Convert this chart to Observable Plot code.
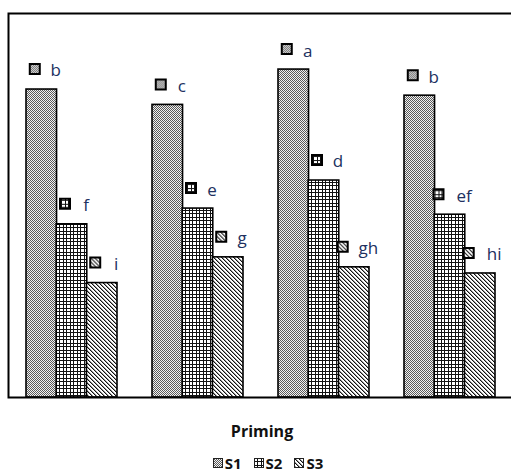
<!DOCTYPE html>
<html>
<head>
<meta charset="utf-8">
<script src="https://cdn.jsdelivr.net/npm/d3@7"></script>
<script src="https://cdn.jsdelivr.net/npm/@observablehq/plot@0.6"></script>
<style>
  html, body { margin: 0; padding: 0; background: #fff; overflow: hidden; }
  #wrap { position: relative; width: 511px; height: 474px; }
  #title { position: absolute; left: 202px; width: 120px; top: 419px; text-align: center;
           font: bold 16px "Open Sans", sans-serif; color: #111; line-height: 24px; }
  #legend { position: absolute; left: 168px; width: 200px; top: 456px; height: 14px;
            display: flex; justify-content: center; align-items: center;
            font: bold 15px "Open Sans", sans-serif; color: #111; line-height: 14px; }
  .item { display: flex; align-items: center; margin: 0 6px; line-height: 14px; height: 14px; }
  .item svg { margin-right: 2px; }
</style>
</head>
<body>
<svg width="0" height="0" style="position:absolute">
  <defs>
    <pattern id="p1" width="2" height="2" patternUnits="userSpaceOnUse">
      <rect width="2" height="2" fill="#f2f2f2"/>
      <rect width="1" height="1" fill="#5a5a5a"/>
      <rect x="1" y="1" width="1" height="1" fill="#5a5a5a"/>
    </pattern>
    <pattern id="p2" width="7" height="7" patternUnits="userSpaceOnUse">
      <rect width="7" height="7" fill="#fff"/>
      <rect x="0" y="0" width="1" height="7" fill="#111"/>
      <rect x="3" y="0" width="1" height="7" fill="#111"/>
      <rect x="0" y="0" width="7" height="1" fill="#111"/>
      <rect x="0" y="3" width="7" height="1" fill="#111"/>
    </pattern>
    <pattern id="p3" width="4" height="4" patternUnits="userSpaceOnUse">
      <rect width="4" height="4" fill="#fff"/>
      <rect x="0" y="0" width="1" height="1" fill="#111"/>
      <rect x="1" y="1" width="1" height="1" fill="#111"/>
      <rect x="2" y="2" width="1" height="1" fill="#111"/>
      <rect x="3" y="3" width="1" height="1" fill="#111"/>
      <rect x="1" y="0" width="1" height="1" fill="#999"/>
      <rect x="2" y="1" width="1" height="1" fill="#999"/>
      <rect x="3" y="2" width="1" height="1" fill="#999"/>
      <rect x="0" y="3" width="1" height="1" fill="#999"/>
    </pattern>
  </defs>
</svg>
<div id="wrap">
  <div id="chart"></div>
  <div id="title">Priming</div>
  <div id="legend"></div>
</div>
<script>
// ---- data ----
const groups = ["P1", "P2", "P3", "P4"];
const seriesNames = ["S1", "S2", "S3"];
const s1 = [80.2, 76.2, 85.4, 78.6];
const s2 = [45.1, 49.2, 56.5, 47.6];
const s3 = [29.8, 36.5, 33.9, 32.3];
const l1 = ["b", "c", "a", "b"];
const l2 = ["f", "e", "d", "ef"];
const l3 = ["i", "g", "gh", "hi"];

const values = [s1, s2, s3];
const letters = [l1, l2, l3];
const fills = ["url(#p1)", "url(#p2)", "url(#p3)"];

const W = 511, H = 400;
const mL = 8, mR = -2, mT = 13, mB = 3;
const xOpts = {domain: groups, paddingInner: 0.281, paddingOuter: 0.1427};
let bw = 90.67;
try {
  const sc = Plot.scale({x: {...xOpts, type: "band", range: [mL, W - mR]}});
  if (sc.bandwidth) bw = sc.bandwidth;
} catch (e) {}
const third = bw / 3;

const marks = [];
seriesNames.forEach((s, k) => {
  const rows = groups.map((g, i) => ({group: g, series: s, value: values[k][i], label: letters[k][i]}));
  const off = (k - 1) * third;
  marks.push(Plot.barY(rows, {
    x: "group", y: "value", fill: fills[k], stroke: "black", strokeWidth: 1.6,
    insetLeft: k * third, insetRight: (2 - k) * third
  }));
  [1, 2].forEach(len => {
    marks.push(Plot.dot(rows.filter(d => d.label.length === len), {
      x: "group", y: "value", symbol: "square", r: 5.64,
      fill: fills[k], stroke: "black", strokeWidth: 2,
      dx: off + (len === 1 ? -7 : -11.5), dy: -20.5
    }));
  });
  marks.push(Plot.text(rows, {
    x: "group", y: "value", text: "label", dx: off + 14, dy: -18.5,
    fill: "#203060", fontSize: 17, fontFamily: "Open Sans", textAnchor: "middle"
  }));
});
marks.push(Plot.frame({stroke: "black", strokeWidth: 2}));

const chart = Plot.plot({
  width: W, height: H,
  marginLeft: mL, marginRight: mR, marginTop: mT, marginBottom: mB,
  x: {...xOpts, axis: null},
  y: {domain: [0, 100], axis: null},
  marks
});
document.getElementById("chart").appendChild(chart);

const legend = document.getElementById("legend");
seriesNames.forEach((s, k) => {
  const item = document.createElement("div");
  item.className = "item";
  item.innerHTML = `<svg width="10" height="10"><rect x="0.5" y="0.5" width="9" height="9" fill="${fills[k]}" stroke="#222" stroke-width="1"/></svg><span>${s}</span>`;
  legend.appendChild(item);
});
</script>
</body>
</html>
